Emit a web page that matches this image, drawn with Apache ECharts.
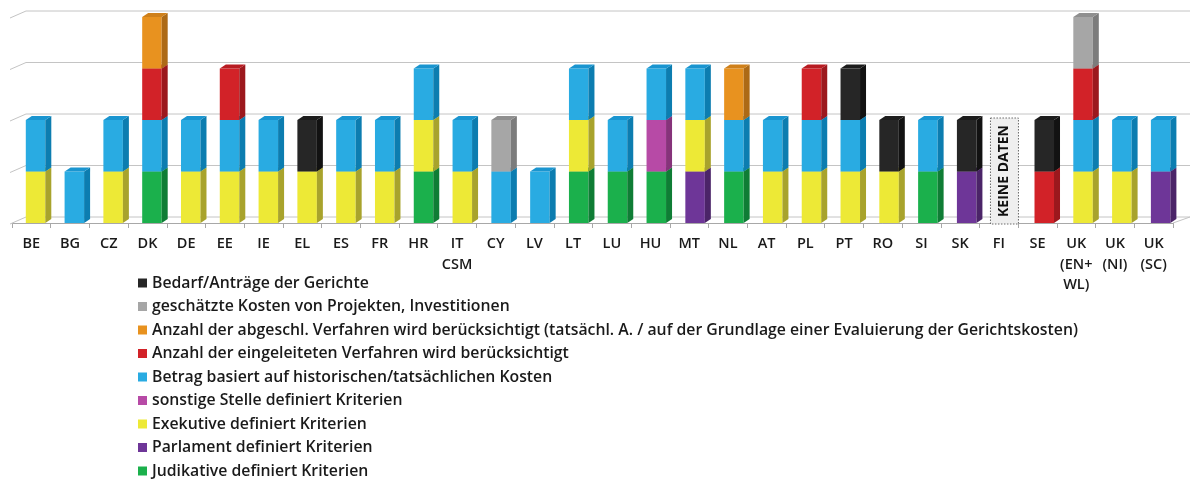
<!DOCTYPE html>
<html>
<head>
<meta charset="utf-8">
<script src="https://cdn.jsdelivr.net/npm/echarts@6/dist/echarts.min.js"></script>
<style>
  html, body { margin: 0; padding: 0; background: #ffffff; }
  #chart { width: 1191px; height: 479px; }
</style>
</head>
<body>
<div id="chart"></div>
<script>
// Member states / courts along the x axis
const countries = ['BE','BG','CZ','DK','DE','EE','IE','EL','ES','FR','HR','IT\nCSM','CY','LV','LT','LU','HU','MT','NL','AT','PL','PT','RO','SI','SK','FI','SE','UK\n(EN+\nWL)','UK\n(NI)','UK\n(SC)'];

// One criterion per series (1 = criterion applies), listed from the bottom of each stack upwards
const judikative   = [0,0,0,1,0,0,0,0,0,0, 1,0,0,0,1,1,1,0,1,0, 0,0,0,1,0,0,0,0,0,0];
const parlament    = [0,0,0,0,0,0,0,0,0,0, 0,0,0,0,0,0,0,1,0,0, 0,0,0,0,1,0,0,0,0,1];
const exekutive    = [1,0,1,0,1,1,1,1,1,1, 1,1,0,0,1,0,0,1,0,1, 1,1,1,0,0,0,0,1,1,0];
const sonstige     = [0,0,0,0,0,0,0,0,0,0, 0,0,0,0,0,0,1,0,0,0, 0,0,0,0,0,0,0,0,0,0];
const betrag       = [1,1,1,1,1,1,1,0,1,1, 1,1,1,1,1,1,1,1,1,1, 1,1,0,1,0,0,0,1,1,1];
const eingeleitet  = [0,0,0,1,0,1,0,0,0,0, 0,0,0,0,0,0,0,0,0,0, 1,0,0,0,0,0,1,1,0,0];
const abgeschlossen= [0,0,0,1,0,0,0,0,0,0, 0,0,0,0,0,0,0,0,1,0, 0,0,0,0,0,0,0,0,0,0];
const geschaetzt   = [0,0,0,0,0,0,0,0,0,0, 0,0,1,0,0,0,0,0,0,0, 0,0,0,0,0,0,0,1,0,0];
const bedarf       = [0,0,0,0,0,0,0,1,0,0, 0,0,0,0,0,0,0,0,0,0, 0,1,1,0,1,0,1,0,0,0];

// Value axis ticks (drawn as back-wall grid lines)
const yTicks = [0, 1, 2, 3, 4];

// Country without data
const noDataCountry = 'FI';
const noDataText = 'KEINE DATEN';

// Series in stacking order: name, values, front / side / top colours
const seriesDefs = [
  { name: 'Judikative definiert Kriterien', values: judikative, front: '#1bb04c', side: '#0f7d35', top: '#16983f' },
  { name: 'Parlament definiert Kriterien', values: parlament, front: '#6e3698', side: '#4b2468', top: '#5c2d80' },
  { name: 'Exekutive definiert Kriterien', values: exekutive, front: '#ede936', side: '#a8a32c', top: '#d2cd30' },
  { name: 'sonstige Stelle definiert Kriterien', values: sonstige, front: '#b74aa6', side: '#86337a', top: '#a04090' },
  { name: 'Betrag basiert auf historischen/tatsächlichen Kosten', values: betrag, front: '#29abe2', side: '#0c7db0', top: '#1a95d0' },
  { name: 'Anzahl der eingeleiteten Verfahren wird berücksichtigt', values: eingeleitet, front: '#d22228', side: '#9c181d', top: '#b81c22' },
  { name: 'Anzahl der abgeschl. Verfahren wird berücksichtigt (tatsächl. A. / auf der Grundlage einer Evaluierung der Gerichtskosten)', values: abgeschlossen, front: '#e8921f', side: '#ad6a16', top: '#cf801a' },
  { name: 'geschätzte Kosten von Projekten, Investitionen', values: geschaetzt, front: '#a6a6a6', side: '#7c7c7c', top: '#8f8f8f' },
  { name: 'Bedarf/Anträge der Gerichte', values: bedarf, front: '#262626', side: '#121212', top: '#1c1c1c' }
];

const FONT = '"Open Sans", "Noto Sans", sans-serif';
const BAR_W = 19.5, DEPTH_X = 6, DEPTH_Y = 4;

// Horizontal perspective shift of a bar relative to its category centre
function barShift(i) {
  return 4.2 + 2.8 * i / (countries.length - 1);
}

function makeBarRenderer(def) {
  return function (params, api) {
    const i = api.value(0), base = api.value(1), val = api.value(2);
    const bot = api.coord([i, base]);
    const top = api.coord([i, base + val]);
    const x0 = bot[0] + barShift(i) - BAR_W / 2;
    const x1 = x0 + BAR_W;
    const yb = bot[1], yt = top[1];
    return {
      type: 'group',
      children: [
        { type: 'rect', shape: { x: x0, y: yt, width: BAR_W, height: yb - yt }, style: { fill: def.front } },
        { type: 'polygon', shape: { points: [[x1, yb], [x1, yt], [x1 + DEPTH_X, yt - DEPTH_Y], [x1 + DEPTH_X, yb - DEPTH_Y]] }, style: { fill: def.side } },
        { type: 'polygon', shape: { points: [[x0, yt], [x1, yt], [x1 + DEPTH_X, yt - DEPTH_Y], [x0 + DEPTH_X, yt - DEPTH_Y]] }, style: { fill: def.top } }
      ]
    };
  };
}

// Stack the segments: running total per country
const running = countries.map(() => 0);
const barSeries = seriesDefs.map((def, k) => {
  const data = [];
  def.values.forEach((v, i) => {
    if (v > 0) {
      data.push([i, running[i], v]);
      running[i] += v;
    }
  });
  return {
    name: def.name,
    type: 'custom',
    coordinateSystem: 'cartesian2d',
    z: 3 + k,
    itemStyle: { color: def.front },
    encode: { x: 0, y: [1, 2] },
    data: data,
    renderItem: makeBarRenderer(def)
  };
});

// Back wall grid lines with the perspective edge on the left, floor edge on the right
const wallSeries = {
  name: 'wall',
  type: 'custom',
  coordinateSystem: 'cartesian2d',
  silent: true,
  z: 1,
  encode: { x: 0, y: 1 },
  data: yTicks.map(v => [0, v]),
  renderItem: function (params, api) {
    const cs = params.coordSys;
    const y = api.coord([0, api.value(1)])[1];
    const xL = cs.x, xR = cs.x + cs.width;
    const children = [{
      type: 'polyline',
      shape: { points: [[xL - 2, y + 1], [xL + 14, y - 6], [xR + 17, y - 6]] },
      style: { stroke: '#c4c4c4', lineWidth: 1, fill: null }
    }];
    if (api.value(1) === 0) {
      children.push({
        type: 'line',
        shape: { x1: xR, y1: y, x2: xR + 17, y2: y - 6 },
        style: { stroke: '#c4c4c4', lineWidth: 1 }
      });
    }
    return { type: 'group', children: children };
  }
};

// "no data" note for the country without information
const noDataIndex = countries.indexOf(noDataCountry);
const noDataSeries = {
  name: 'nodata',
  type: 'custom',
  coordinateSystem: 'cartesian2d',
  silent: true,
  z: 2,
  encode: { x: 0, y: 1 },
  data: [[noDataIndex, 0]],
  renderItem: function (params, api) {
    const i = api.value(0);
    const p0 = api.coord([i, 0]);
    const p2 = api.coord([i, 2]);
    const cx = p0[0] + barShift(i) - 1;
    const w = 28;
    const yTop = p2[1] - 2, yBot = p0[1] + 1;
    return {
      type: 'group',
      children: [
        { type: 'rect', shape: { x: cx - w / 2, y: yTop, width: w, height: yBot - yTop },
          style: { fill: '#efefef', stroke: '#6a6a6a', lineWidth: 1, lineDash: [1.5, 1.5] } },
        { type: 'text', x: cx, y: (yTop + yBot) / 2, rotation: Math.PI / 2,
          style: { text: noDataText, fill: '#111111', font: '700 14px ' + FONT, align: 'center', verticalAlign: 'middle' } }
      ]
    };
  }
};

const chart = echarts.init(document.getElementById('chart'), null, { renderer: 'canvas' });
chart.setOption({
  backgroundColor: '#ffffff',
  animation: false,
  grid: { left: 12, right: 18, top: 17, bottom: 256 },
  legend: {
    orient: 'vertical',
    left: 138,
    top: 275,
    height: 215,
    padding: 0,
    itemWidth: 9,
    itemHeight: 9,
    itemGap: 7.5,
    icon: 'rect',
    selectedMode: false,
    textStyle: { fontFamily: FONT, fontSize: 15.8, fontWeight: 600, color: '#1a1a1a' },
    data: seriesDefs.slice().reverse().map(d => ({ name: d.name, itemStyle: { color: d.front } }))
  },
  xAxis: {
    type: 'category',
    data: countries,
    boundaryGap: true,
    axisLine: { lineStyle: { color: '#a8a8a8', width: 1 } },
    axisTick: { show: true, interval: 0, length: 5, lineStyle: { color: '#a8a8a8' } },
    axisLabel: { interval: 0, margin: 11, fontFamily: FONT, fontSize: 14.5, fontWeight: 600, lineHeight: 20.5, color: '#1a1a1a' },
    splitLine: { show: false }
  },
  yAxis: {
    type: 'value',
    min: 0,
    max: 4,
    interval: 1,
    show: false
  },
  series: [wallSeries, noDataSeries].concat(barSeries)
});
</script>
</body>
</html>
